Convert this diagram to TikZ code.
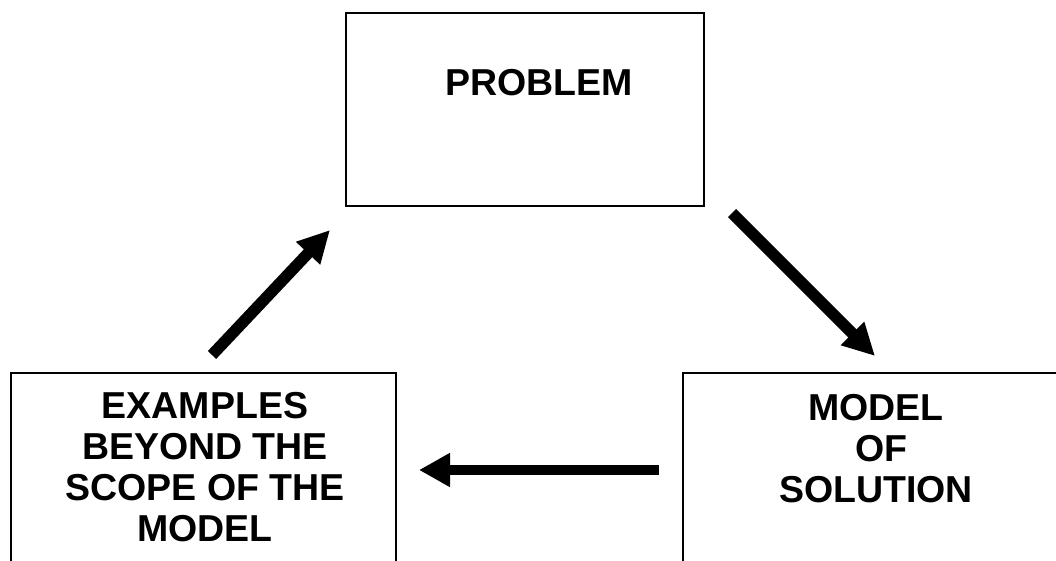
\documentclass[tikz,border=0pt]{standalone}
\usepackage{fontspec}
\setmainfont{Liberation Sans}
\usetikzlibrary{arrows.meta}
\begin{document}
\begin{tikzpicture}[x=1pt,y=-1pt,
  box/.style={draw=black,line width=2pt,fill=none},
  label/.style={font=\fontsize{37.5}{41}\selectfont\bfseries,align=center,inner sep=0pt},
  flow/.style={line width=11.5pt,-{Triangle[length=32pt,width=31pt]}},
  flowh/.style={line width=10pt,-{Triangle[length=31pt,width=32pt]}}]
  \useasboundingbox (0,0) rectangle (1056,561);
  \clip (0,0) rectangle (1056,561);
  % boxes (the lower two run past the page edge)
  \draw[box] (346,13) rectangle (704,206);
  \draw[box] (11,373) rectangle (396,600);
  \draw[box] (683,373) rectangle (1100,600);
  % labels
  \node[label] (problem) at (539,83) {PROBLEM};
  \node[label,anchor=north] (examples) at (205,392) {EXAMPLES\\BEYOND THE\\SCOPE OF THE\\MODEL};
  \node[label,anchor=north] (model) at (876,394) {MODEL\\\hspace*{11pt}OF\\SOLUTION};
  % arrow end points
  \coordinate (a1s) at (212,355);
  \coordinate (a1e) at (330,230);
  \coordinate (a2s) at (732,213);
  \coordinate (a2e) at (875,356);
  \coordinate (a3s) at (659,470);
  \coordinate (a3e) at (419,470);
  \draw[flow] (a1s) -- (a1e);
  \draw[flow] (a2s) -- (a2e);
  \draw[flowh] (a3s) -- (a3e);
\end{tikzpicture}
\end{document}
